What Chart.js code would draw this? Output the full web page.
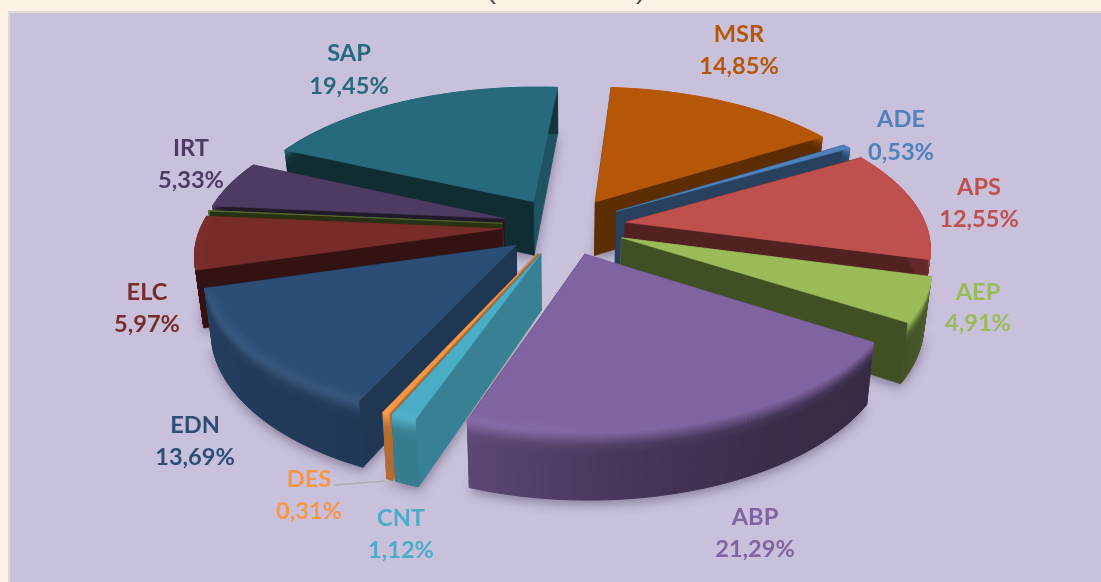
<!DOCTYPE html>
<html><head><meta charset="utf-8">
<script src="https://cdn.jsdelivr.net/npm/chart.js@4"></script>
<style>html,body{margin:0;padding:0;background:#FDF3E5;overflow:hidden}canvas{display:block}</style>
</head><body><canvas id="c" width="1101" height="582"></canvas>
<script>
const categories = ['ADE','APS','AEP','ABP','CNT','DES','EDN','ELC','','IRT','SAP','MSR'];
const shares     = [0.53,12.55,4.91,21.29,1.12,0.31,13.69,5.97,0.05,5.33,19.45,14.85];
const sliceColors = ['#4F81BD','#C0504D','#9BBB59','#8064A2','#4BACC6','#F79646','#2C4D75','#772C2A','#5F7530','#4D3B62','#276A7C','#B65708'];
// label placement: centre x, first line y, second line y
const labelPlaces = {ADE:[901,119,152],APS:[979,187,219],AEP:[978,292,323],ABP:[755,517,549],CNT:[401,518,550],DES:[309,479,511],EDN:[195,425,457],ELC:[147,292,324],IRT:[191,148,180],SAP:[349,53,86],MSR:[739,34,66]};

const CAM = {D:1900, k:0.465, depth:55, converge:0.022};
function rgb(h){return [1,3,5].map(i=>parseInt(h.substr(i,2),16));}
function mul(h,f){const c=rgb(h).map(v=>Math.max(0,Math.min(255,Math.round(f>1?v+(255-v)*(f-1):v*f))));return `rgb(${c[0]},${c[1]},${c[2]})`;}
function lerpTable(t,x){if(x<=t[0][0])return t[0][1];for(let i=1;i<t.length;i++){if(x<=t[i][0]){const p=(x-t[i-1][0])/(t[i][0]-t[i-1][0]);return t[i-1][1]+p*(t[i][1]-t[i-1][1]);}}return t[t.length-1][1];}
const CUT_SHADE=[[90,.8],[110,.74],[150,.5],[165,.42],[230,.42]];
const OUTER_SHADE=[[40,.5],[100,.52],[125,.42],[150,.45],[175,.55],[200,.72],[253.5,.8],[254.5,.42],[360,.42]];
const RIM_GLOW=[[160,0],[200,1],[245,1],[256,.3],[280,.3],[300,0]];
const deg=a=>((a*180/Math.PI+90)%360+360)%360;

function geo(arc){
  const a0=arc.startAngle,a1=arc.endAngle,mid=(a0+a1)/2,off=arc.options.offset,R=arc.outerRadius;
  const ox=Math.cos(mid)*off,oy=Math.sin(mid)*off;
  const P=(r,a,t=0)=>{const x=ox+r*Math.cos(a),y=oy+r*Math.sin(a),s=1/(1-y/CAM.D),X=x*s;
    return [arc.x+X*(1-t*CAM.converge), arc.y+CAM.k*y*s+t*CAM.depth*s];};
  return {a0,a1,mid,R,P};
}
function poly(ctx,pts){ctx.beginPath();pts.forEach((p,i)=>i?ctx.lineTo(p[0],p[1]):ctx.moveTo(p[0],p[1]));ctx.closePath();}
function sector(ctx,g,t){const pts=[g.P(0,g.a0,t)];const n=Math.max(2,Math.ceil((g.a1-g.a0)/0.02));
  for(let i=0;i<=n;i++)pts.push(g.P(g.R,g.a0+(g.a1-g.a0)*i/n,t));poly(ctx,pts);}
function quad(ctx,pts,col,lw=.7){poly(ctx,pts);ctx.fillStyle=col;ctx.strokeStyle=col;ctx.lineWidth=lw;ctx.fill();ctx.stroke();}

function drawSlice(ctx,arc,color){
  const g=geo(arc),{a0,a1,R,P}=g;
  // cut faces
  const faces=[{a:a0,nu:deg(a0-Math.PI/2)},{a:a1,nu:deg(a1+Math.PI/2)}].sort((u,v)=>Math.abs(u.nu-180)<Math.abs(v.nu-180)?1:-1);
  faces.forEach(f=>{
    const sh=lerpTable(CUT_SHADE,f.nu>180?Math.min(f.nu,230):f.nu);
    quad(ctx,[P(0,f.a,0),P(R,f.a,0),P(R,f.a,1),P(0,f.a,1)],mul(color,sh));
  });
  // outer wall: colour follows the facing angle, soft blend from the crest
  const n=Math.max(2,Math.ceil((a1-a0)/0.012));
  for(let i=0;i<n;i++){
    const u=a0+(a1-a0)*i/n,v=a0+(a1-a0)*(i+1)/n,th=deg((u+v)/2);
    const sh=lerpTable(OUTER_SHADE,th);
    const glow=lerpTable(RIM_GLOW,th);
    const top=P(R,(u+v)/2,0),bot=P(R,(u+v)/2,1);
    const gr=ctx.createLinearGradient(0,top[1],0,bot[1]);
    gr.addColorStop(0,mul(color,1+.06*glow));
    gr.addColorStop(.2,mul(color,sh+(1-sh)*.15));
    gr.addColorStop(.32,mul(color,sh));
    gr.addColorStop(1,mul(color,sh));
    quad(ctx,[P(R,u,0),P(R,v,0),P(R,v,1),P(R,u,1)],gr,1);
  }
  // top
  sector(ctx,g,0);ctx.fillStyle=color;ctx.strokeStyle=color;ctx.lineWidth=.5;ctx.fill();ctx.stroke();
  // soft rim light on the near-left side of the top face
  for(let i=0;i<n;i++){
    const u=a0+(a1-a0)*i/n,v=a0+(a1-a0)*(i+1)/n,th=deg((u+v)/2);
    const w=lerpTable(RIM_GLOW,th);
    if(w<=0)continue;
    [[R-12,R-8,1.015],[R-8,R-4,1.04],[R-4,R,1.055]].forEach(b=>{
      poly(ctx,[P(b[0],u),P(b[0],v),P(b[1],v),P(b[1],u)]);
      ctx.fillStyle=mul(color,1+(b[2]-1)*w);ctx.fill();
    });
  }
}

const piePainter={
  id:'piePainter',
  beforeDraw(chart){
    const c=chart.ctx;
    c.save();
    c.fillStyle='#FDF3E5';c.fillRect(0,0,1101,582);
    c.fillStyle='#DFDCD8';c.fillRect(8,11,1093,571);
    c.fillStyle='#C9C1DB';c.fillRect(10,13,1091,569);
    c.fillStyle='#555';c.font='30px "Liberation Sans"';c.textAlign='center';c.textBaseline='alphabetic';
    c.fillText('(',491,-2);c.fillText(')',641,-2);
    c.restore();
  },
  beforeDatasetsDraw(chart){
    const c=chart.ctx,meta=chart.getDatasetMeta(0),cols=chart.data.datasets[0].backgroundColor;
    const order=meta.data.map((a,i)=>({a,i,z:Math.sin((a.startAngle+a.endAngle)/2)})).sort((p,q)=>p.z-q.z);
    c.save();
    order.forEach(o=>{const g=geo(o.a);c.save();c.shadowColor='rgba(50,40,70,.45)';c.shadowBlur=12;c.shadowOffsetY=4;c.fillStyle='#8d86a0';sector(c,g,1);c.fill();c.restore();});
    order.forEach(o=>drawSlice(c,o.a,cols[o.i]));
    c.restore();
    return false;
  },
  afterDraw(chart){
    const c=chart.ctx,ds=chart.data.datasets[0];
    c.save();
    c.strokeStyle='#B0ADB2';c.lineWidth=1.5;c.beginPath();c.moveTo(334,485);c.lineTo(386,481);c.stroke();
    c.font='bold 23.6px Lato';c.textAlign='center';c.textBaseline='middle';
    chart.data.labels.forEach((name,i)=>{
      const p=labelPlaces[name];if(!p)return;
      c.fillStyle=ds.backgroundColor[i];
      c.fillText(name,p[0],p[1]);
      c.fillText(ds.data[i].toFixed(2).replace('.',',')+'%',p[0],p[2]);
    });
    c.restore();
  }
};

new Chart(document.getElementById('c'),{
  type:'pie',
  data:{labels:categories,datasets:[{data:shares,backgroundColor:sliceColors,offset:62,borderWidth:0}]},
  options:{responsive:false,animation:false,radius:301,rotation:57.96,
    layout:{padding:{left:27,bottom:130}},
    plugins:{legend:{display:false},tooltip:{enabled:false},title:{display:false}}},
  plugins:[piePainter]
});
</script></body></html>
